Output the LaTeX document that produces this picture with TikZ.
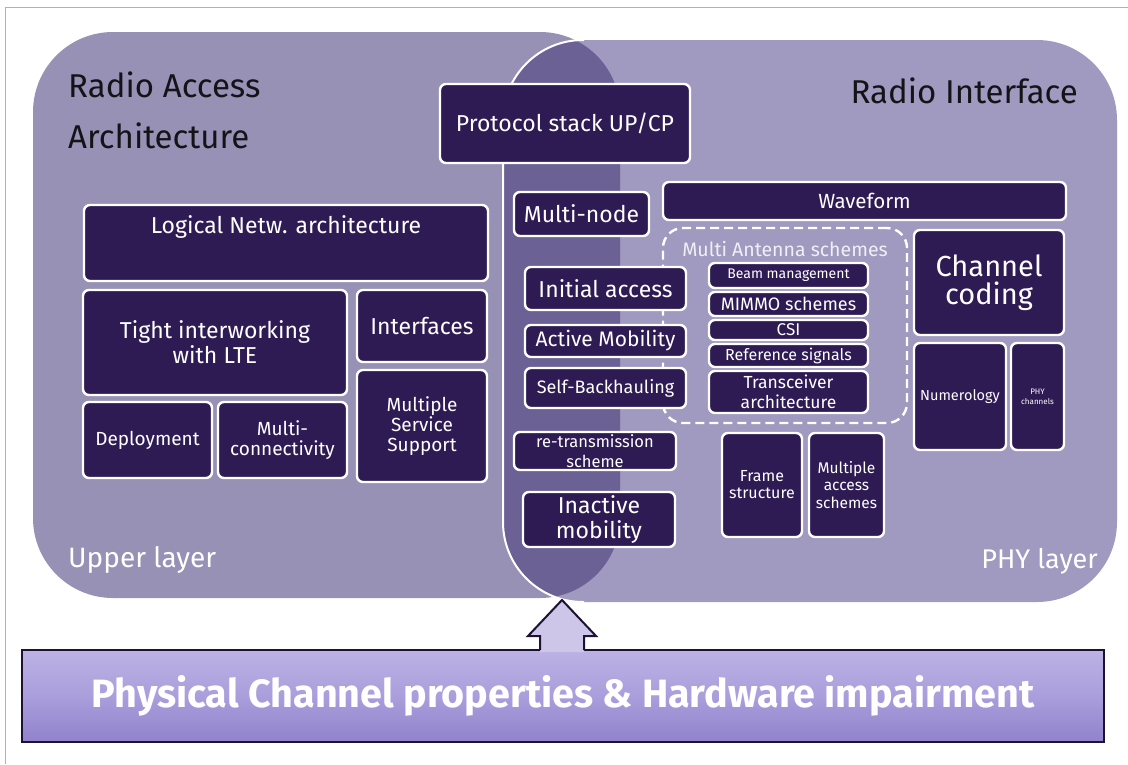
\documentclass[tikz,border=0pt]{standalone}
\usepackage{fontspec}
\setmainfont{Fira Sans}
\usetikzlibrary{positioning}

\definecolor{boxpurple}{RGB}{46,27,84}
\definecolor{leftgray}{RGB}{152,145,182}
\definecolor{rightgray}{RGB}{160,153,192}
\definecolor{lensgray}{RGB}{108,97,148}
\definecolor{barline}{RGB}{30,18,52}
\definecolor{arrowfill}{RGB}{205,198,232}
\definecolor{titleblack}{RGB}{20,20,24}

\begin{document}
\begin{tikzpicture}[x=1pt, y=-1pt,
    blk/.style={draw=white, line width=2.4pt, fill=boxpurple, rounded corners=6pt,
                text=white, align=center, inner sep=1pt},
    sz/.style 2 args={font=\fontsize{#1}{#2}\selectfont},
    title/.style={text=titleblack, inner sep=0pt, align=left},
    layername/.style={text=white, inner sep=0pt}]

\useasboundingbox (0,0) rectangle (1128,764);
\draw[gray!60, line width=1pt] (5,764) -- (5,7) -- (1128,7);

% the two areas and their overlap
\fill[leftgray, rounded corners=80pt] (33,32) rectangle (620,598);
\fill[rightgray, rounded corners=80pt] (503,40) rectangle (1117,602);
\begin{scope}
  \clip[rounded corners=80pt] (33,32) rectangle (620,598);
  \fill[lensgray, rounded corners=80pt] (503,40) rectangle (1117,602);
\end{scope}
\draw[white, line width=2pt, rounded corners=80pt] (584,40) -- (503,40) -- (503,602) -- (584,602);

\node[title, anchor=north west, sz={33}{51}] (ran) at (68,72) {Radio Access\\Architecture};
\node[title, anchor=base east, sz={33}{36}] (rif) at (1078,103) {Radio Interface};
\node[layername, anchor=base west, sz={28}{30}] (upper) at (68,567) {Upper layer};
\node[layername, anchor=base east, sz={27}{30}] (phy) at (1098,568) {PHY layer};

% upper layer
\node[blk, minimum width=404pt, minimum height=76pt] (logic) at (286,243) {};
\node[text=white, sz={23}{26}] (logictxt) at (286,227) {Logical Netw. architecture};
\node[blk, minimum width=264pt, minimum height=105pt, sz={23}{25}] (tight) at (215,342.5) {Tight interworking\\with LTE};
\node[blk, minimum width=130pt, minimum height=72pt, sz={23}{25}] (iface) at (422,326) {Interfaces};
\node[blk, minimum width=130pt, minimum height=112pt, sz={19}{20}] (mss) at (422,426) {Multiple\\Service\\Support};
\node[blk, minimum width=129pt, minimum height=76pt, sz={19}{20}] (deploy) at (147.5,440) {Deployment};
\node[blk, minimum width=129pt, minimum height=76pt, sz={19}{20}] (multicon) at (282.5,440) {Multi-\\connectivity};

% PHY layer, antenna frame first
\node[draw=white, dashed, dash pattern=on 9pt off 5pt, line width=2.4pt, rounded corners=20pt,
      minimum width=244pt, minimum height=195pt] (mant) at (785,325.5) {};
\node[text=white!90!lensgray, sz={19.5}{22}] (manttxt) at (785,249) {Multi Antenna schemes};
\foreach \nm/\cy/\h/\fs/\txt in {beam/275.5/25/14/Beam management, mimo/304/24/18/MIMMO schemes,
    csi/330/20/17/CSI, refs/355.5/23/16/Reference signals, trx/392/42/17.5/{Transceiver\\architecture}}
  \node[blk, minimum width=159pt, minimum height=\h pt, font=\fontsize{\fs}{20}\selectfont] (\nm) at (788.5,\cy) {\txt};
\node[blk, minimum width=403pt, minimum height=38pt, sz={20.5}{22}] (wave) at (864.5,201) {Waveform};
\node[blk, minimum width=150pt, minimum height=105pt, sz={29}{28}] (chcode) at (989,282.5) {Channel\\coding};
\node[blk, minimum width=92pt, minimum height=107pt, sz={14.5}{16}] (numer) at (960,396.5) {Numerology};
\node[blk, minimum width=53pt, minimum height=107pt, sz={8}{10}] (phych) at (1037.5,396.5) {PHY\\channels};
\node[blk, minimum width=80pt, minimum height=104pt, sz={16}{17}] (frame) at (762,485) {Frame\\structure};
\node[blk, minimum width=75pt, minimum height=104pt, sz={15.5}{17.5}] (mas) at (846.5,485) {Multiple\\access\\schemes};

% shared part
\node[blk, minimum width=250pt, minimum height=79pt, sz={23}{25}] (proto) at (565,123.5) {Protocol stack UP/CP};
\node[blk, minimum width=135pt, minimum height=44pt, sz={23}{25}] (mnode) at (581.5,214) {Multi-node};
\node[blk, minimum width=161pt, minimum height=43pt, sz={23}{25}] (init) at (605.5,288.5) {Initial access};
\node[blk, minimum width=161pt, minimum height=32pt, sz={21}{23}] (active) at (605.5,341) {Active Mobility};
\node[blk, minimum width=161pt, minimum height=40pt, sz={18}{20}] (selfb) at (605.5,388) {Self-Backhauling};
\node[blk, minimum width=162pt, minimum height=38pt, sz={16.5}{20}] (retx) at (595,451) {re-transmission\\scheme};
\node[blk, minimum width=152pt, minimum height=55pt, sz={23}{25}] (inact) at (599,519.5) {Inactive\\mobility};

% physical channel bar and arrow
\node[draw=barline, line width=2pt, minimum width=1082pt, minimum height=92pt,
      top color={rgb,255:red,188;green,178;blue,228}, bottom color={rgb,255:red,145;green,130;blue,204},
      middle color={rgb,255:red,170;green,158;blue,220}, text=white,
      font=\bfseries\fontsize{39.5}{42}\selectfont] (phys) at (563,696) {Physical Channel properties \& Hardware impairment};
\coordinate (tip) at (562,600);
\fill[arrowfill] (tip) -- ++(34,36) -- ++(-12,0) -- ++(0,16) -- ++(-44,0) -- ++(0,-16) -- ++(-12,0) -- cycle;
\draw[barline, line width=2pt] (tip) ++(22,50) -- ++(0,-14) -- ++(12,0) -- (tip) -- ++(-34,36) -- ++(12,0) -- ++(0,14);
\end{tikzpicture}
\end{document}
